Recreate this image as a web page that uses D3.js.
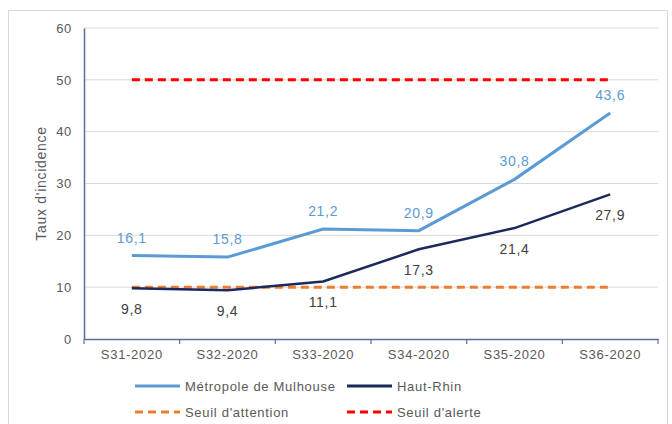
<!DOCTYPE html>
<html>
<head>
<meta charset="utf-8">
<script src="https://cdn.jsdelivr.net/npm/d3@7"></script>
<style>
  body { margin: 0; background: #fff; }
  text { font-family: "Liberation Sans", Arial, sans-serif; letter-spacing: 0.7px; }
</style>
</head>
<body>
<script>
var weeks = ["S31-2020", "S32-2020", "S33-2020", "S34-2020", "S35-2020", "S36-2020"];
var mulhouse = [16.1, 15.8, 21.2, 20.9, 30.8, 43.6];
var hautRhin = [9.8, 9.4, 11.1, 17.3, 21.4, 27.9];
var seuilAttention = [10, 10, 10, 10, 10, 10];
var seuilAlerte = [50, 50, 50, 50, 50, 50];
var yTicks = [0, 10, 20, 30, 40, 50, 60];

var W = 672, H = 424;
var margin = { top: 28, right: 14, bottom: 85, left: 84 };

var svg = d3.select("body").append("svg")
  .attr("width", W).attr("height", H);

// cadre
svg.append("rect")
  .attr("x", 8.5).attr("y", 10.5)
  .attr("width", 659).attr("height", 430)
  .attr("fill", "none").attr("stroke", "#d9d9d9");

var x = d3.scaleBand().domain(weeks).range([margin.left, W - margin.right]);
var y = d3.scaleLinear().domain([0, 60]).range([H - margin.bottom, margin.top]);

var cx = function (i) { return x(weeks[i]) + x.bandwidth() / 2; };

// grille
svg.append("g").selectAll("line")
  .data(yTicks.filter(function (d) { return d > 0; })).enter()
  .append("line")
  .attr("x1", margin.left).attr("x2", W - margin.right)
  .attr("y1", function (d) { return y(d); })
  .attr("y2", function (d) { return y(d); })
  .attr("stroke", "#d9d9d9").attr("stroke-width", 1);

// axe y
var yAxis = svg.append("g")
  .attr("transform", "translate(" + margin.left + ",0)")
  .call(d3.axisLeft(y).tickValues(yTicks).tickSize(0).tickPadding(12));
yAxis.select(".domain").attr("stroke", "#5a6e9a").attr("stroke-width", 1.5);
yAxis.selectAll("text").attr("fill", "#595959").style("font-size", "13px");

// axe x
var xAxis = svg.append("g")
  .attr("transform", "translate(0," + y(0) + ")")
  .call(d3.axisBottom(x).tickSize(0).tickPadding(11));
xAxis.select(".domain").attr("stroke", "#5a6e9a").attr("stroke-width", 1.5);
xAxis.selectAll("text").attr("fill", "#595959").style("font-size", "13px");
xAxis.selectAll(".sep")
  .data(d3.range(weeks.length + 1)).enter()
  .append("line")
  .attr("x1", function (i) { return margin.left + i * x.bandwidth(); })
  .attr("x2", function (i) { return margin.left + i * x.bandwidth(); })
  .attr("y1", 0).attr("y2", 5)
  .attr("stroke", "#5a6e9a").attr("stroke-width", 1.2);

svg.append("text")
  .attr("transform", "translate(46," + ((margin.top + y(0)) / 2) + ") rotate(-90)")
  .attr("text-anchor", "middle")
  .attr("fill", "#595959")
  .style("font-size", "14px")
  .text("Taux d'incidence");

var line = d3.line()
  .x(function (d, i) { return cx(i); })
  .y(function (d) { return y(d); });

var series = [
  { values: seuilAttention, color: "#ed7d31", width: 3, dash: "8,5" },
  { values: seuilAlerte, color: "#ff0000", width: 3, dash: "8,5" },
  { values: mulhouse, color: "#5b9bd5", width: 3, dash: null },
  { values: hautRhin, color: "#1b2a5c", width: 2.5, dash: null }
];

series.forEach(function (s) {
  svg.append("path")
    .datum(s.values)
    .attr("d", line)
    .attr("fill", "none")
    .attr("stroke", s.color)
    .attr("stroke-width", s.width)
    .attr("stroke-dasharray", s.dash);
});

var fmt = function (d) { return String(d.toFixed(1)).replace(".", ","); };

svg.append("g").selectAll("text")
  .data(mulhouse).enter()
  .append("text")
  .attr("x", function (d, i) { return cx(i); })
  .attr("y", function (d) { return y(d) - 13; })
  .attr("text-anchor", "middle")
  .attr("fill", "#5b9bd5")
  .style("font-size", "14px")
  .text(fmt);

svg.append("g").selectAll("text")
  .data(hautRhin).enter()
  .append("text")
  .attr("x", function (d, i) { return cx(i); })
  .attr("y", function (d) { return y(d) + 26; })
  .attr("text-anchor", "middle")
  .attr("fill", "#404040")
  .style("font-size", "14px")
  .text(fmt);

// légende
var legend = [
  { label: "Métropole de Mulhouse", color: "#5b9bd5", dash: null, x: 135, y: 386 },
  { label: "Haut-Rhin", color: "#1b2a5c", dash: null, x: 347, y: 386 },
  { label: "Seuil d'attention", color: "#ed7d31", dash: "8,5", x: 135, y: 412 },
  { label: "Seuil d'alerte", color: "#ff0000", dash: "8,5", x: 347, y: 412 }
];
var lg = svg.append("g").selectAll("g").data(legend).enter().append("g");
lg.append("line")
  .attr("x1", function (d) { return d.x; })
  .attr("x2", function (d) { return d.x + 45; })
  .attr("y1", function (d) { return d.y; })
  .attr("y2", function (d) { return d.y; })
  .attr("stroke", function (d) { return d.color; })
  .attr("stroke-width", 3)
  .attr("stroke-dasharray", function (d) { return d.dash; });
lg.append("text")
  .attr("x", function (d) { return d.x + 50; })
  .attr("y", function (d) { return d.y + 5; })
  .attr("fill", "#595959")
  .style("font-size", "13px")
  .text(function (d) { return d.label; });
</script>
</body>
</html>
